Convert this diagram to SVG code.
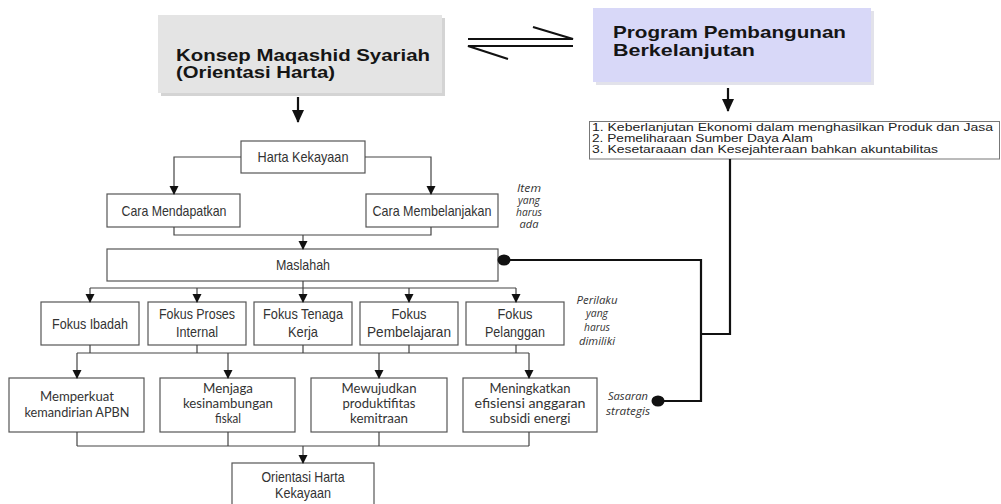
<svg xmlns="http://www.w3.org/2000/svg" width="1001" height="504" viewBox="0 0 1001 504">
<style>
.box{fill:#fff;stroke:#555;stroke-width:1.2}
.ln{fill:none;stroke:#444;stroke-width:1.2}
.thick{fill:none;stroke:#111;stroke-width:2.2}
.nar{font-family:"Liberation Sans Narrow","Liberation Sans",Arial,sans-serif;font-size:15px;fill:#333;text-anchor:middle}
.cal{font-family:Lato,"Open Sans",sans-serif;font-size:14px;fill:#333;text-anchor:middle}
.ital{font-family:"Open Sans","Noto Sans",sans-serif;font-style:italic;font-size:10px;fill:#333;text-anchor:middle}
.big{font-family:"Liberation Sans",Arial,sans-serif;font-weight:bold;font-size:17px;fill:#151515}
.list{font-family:"Liberation Sans",Arial,sans-serif;font-size:10px;fill:#222}
</style>
<defs>
<marker id="ah" markerUnits="userSpaceOnUse" markerWidth="9" markerHeight="10" refX="8" refY="4.5" orient="auto" viewBox="0 0 9 9">
<path d="M0,0 L9,4.5 L0,9 z" fill="#111"/>
</marker>
<marker id="bigah" markerUnits="userSpaceOnUse" markerWidth="13" markerHeight="12" refX="12" refY="6" orient="auto" viewBox="0 0 13 12">
<path d="M0,0 L13,6 L0,12 z" fill="#111"/>
</marker>
</defs>

<g id="konsep">
<rect x="161" y="18" width="284" height="78" fill="#d4d4d4"/>
<rect x="158" y="15" width="284" height="78" fill="#e4e4e4"/>
<text class="big" x="176" y="61" textLength="254" lengthAdjust="spacingAndGlyphs">Konsep Maqashid Syariah</text>
<text class="big" x="176" y="78" textLength="159" lengthAdjust="spacingAndGlyphs">(Orientasi Harta)</text>
</g>

<g id="program">
<rect x="596" y="11" width="278" height="74" fill="#e2e2ea"/>
<rect x="593" y="8" width="278" height="74" fill="#d8d8f8"/>
<text class="big" x="613" y="38" textLength="233" lengthAdjust="spacingAndGlyphs">Program Pembangunan</text>
<text class="big" x="613" y="56" textLength="142" lengthAdjust="spacingAndGlyphs">Berkelanjutan</text>
</g>

<g id="daftar">
<rect x="589.5" y="121.5" width="410" height="37.5" fill="#fff" stroke="#777" stroke-width="1"/>
<text class="list" x="592" y="130.5" textLength="401" lengthAdjust="spacingAndGlyphs">1. Keberlanjutan Ekonomi dalam menghasilkan Produk dan Jasa</text>
<text class="list" x="592" y="141.5" textLength="221" lengthAdjust="spacingAndGlyphs">2. Pemeliharaan Sumber Daya Alam</text>
<text class="list" x="592" y="152.5" textLength="346" lengthAdjust="spacingAndGlyphs">3. Kesetaraaan dan Kesejahteraan bahkan akuntabilitas</text>
</g>

<g id="harta">
<rect class="box" x="241" y="141" width="124" height="32"/>
<text class="nar" x="303" y="162" textLength="91" lengthAdjust="spacingAndGlyphs">Harta Kekayaan</text>
</g>
<g id="cara-mendapatkan">
<rect class="box" x="107" y="194" width="133" height="33"/>
<text class="nar" x="174" y="216" textLength="105" lengthAdjust="spacingAndGlyphs">Cara Mendapatkan</text>
</g>
<g id="cara-membelanjakan">
<rect class="box" x="366" y="194" width="132" height="33"/>
<text class="nar" x="432" y="216" textLength="119" lengthAdjust="spacingAndGlyphs">Cara Membelanjakan</text>
</g>
<g id="maslahah">
<rect class="box" x="107" y="249" width="391" height="32"/>
<text class="nar" x="303" y="270" textLength="54" lengthAdjust="spacingAndGlyphs">Maslahah</text>
</g>

<g id="fokus-ibadah">
<rect class="box" x="41" y="302" width="98" height="43"/>
<text class="nar" x="90" y="329" textLength="76" lengthAdjust="spacingAndGlyphs">Fokus Ibadah</text>
</g>
<g id="fokus-proses">
<rect class="box" x="148" y="302" width="98" height="43"/>
<text class="nar" x="197" y="319" textLength="76" lengthAdjust="spacingAndGlyphs">Fokus Proses</text>
<text class="nar" x="197" y="337" textLength="42" lengthAdjust="spacingAndGlyphs">Internal</text>
</g>
<g id="fokus-tenaga">
<rect class="box" x="254" y="302" width="98" height="43"/>
<text class="nar" x="303" y="319" textLength="80" lengthAdjust="spacingAndGlyphs">Fokus Tenaga</text>
<text class="nar" x="303" y="337" textLength="30" lengthAdjust="spacingAndGlyphs">Kerja</text>
</g>
<g id="fokus-pembelajaran">
<rect class="box" x="360" y="302" width="98" height="43"/>
<text class="nar" x="409" y="319" textLength="35" lengthAdjust="spacingAndGlyphs">Fokus</text>
<text class="nar" x="409" y="337" textLength="84" lengthAdjust="spacingAndGlyphs">Pembelajaran</text>
</g>
<g id="fokus-pelanggan">
<rect class="box" x="466" y="302" width="98" height="43"/>
<text class="nar" x="515" y="319" textLength="35" lengthAdjust="spacingAndGlyphs">Fokus</text>
<text class="nar" x="515" y="337" textLength="60" lengthAdjust="spacingAndGlyphs">Pelanggan</text>
</g>

<g id="memperkuat">
<rect class="box" x="9" y="378" width="135" height="54"/>
<text class="cal" x="77" y="401" textLength="74" lengthAdjust="spacingAndGlyphs">Memperkuat</text>
<text class="cal" x="77" y="417" textLength="105" lengthAdjust="spacingAndGlyphs">kemandirian APBN</text>
</g>
<g id="menjaga">
<rect class="box" x="160" y="378" width="135" height="54"/>
<text class="cal" x="228" y="393" textLength="50" lengthAdjust="spacingAndGlyphs">Menjaga</text>
<text class="cal" x="228" y="408" textLength="90" lengthAdjust="spacingAndGlyphs">kesinambungan</text>
<text class="cal" x="228" y="423" textLength="26" lengthAdjust="spacingAndGlyphs">fiskal</text>
</g>
<g id="mewujudkan">
<rect class="box" x="311" y="378" width="136" height="54"/>
<text class="cal" x="379" y="393" textLength="75" lengthAdjust="spacingAndGlyphs">Mewujudkan</text>
<text class="cal" x="379" y="408" textLength="73" lengthAdjust="spacingAndGlyphs">produktifitas</text>
<text class="cal" x="379" y="423" textLength="58" lengthAdjust="spacingAndGlyphs">kemitraan</text>
</g>
<g id="meningkatkan">
<rect class="box" x="463" y="378" width="134" height="54"/>
<text class="cal" x="530" y="393" textLength="81" lengthAdjust="spacingAndGlyphs">Meningkatkan</text>
<text class="cal" x="530" y="408" textLength="111" lengthAdjust="spacingAndGlyphs">efisiensi anggaran</text>
<text class="cal" x="530" y="423" textLength="81" lengthAdjust="spacingAndGlyphs">subsidi energi</text>
</g>
<g id="orientasi">
<rect class="box" x="232" y="463" width="142" height="50"/>
<text class="nar" x="303" y="482" textLength="83" lengthAdjust="spacingAndGlyphs">Orientasi Harta</text>
<text class="nar" x="303" y="498" textLength="56" lengthAdjust="spacingAndGlyphs">Kekayaan</text>
</g>

<g id="label-item">
<text class="ital" x="529" y="192" textLength="24" lengthAdjust="spacingAndGlyphs">Item</text>
<text class="ital" x="529" y="204" textLength="22" lengthAdjust="spacingAndGlyphs">yang</text>
<text class="ital" x="529" y="216" textLength="26" lengthAdjust="spacingAndGlyphs">harus</text>
<text class="ital" x="529" y="228" textLength="19" lengthAdjust="spacingAndGlyphs">ada</text>
</g>
<g id="label-perilaku">
<text class="ital" x="597" y="304" textLength="41" lengthAdjust="spacingAndGlyphs">Perilaku</text>
<text class="ital" x="597" y="317" textLength="22" lengthAdjust="spacingAndGlyphs">yang</text>
<text class="ital" x="597" y="331" textLength="26" lengthAdjust="spacingAndGlyphs">harus</text>
<text class="ital" x="597" y="345" textLength="36" lengthAdjust="spacingAndGlyphs">dimiliki</text>
</g>
<g id="label-sasaran">
<text class="ital" x="628" y="400" textLength="40" lengthAdjust="spacingAndGlyphs">Sasaran</text>
<text class="ital" x="628" y="415" textLength="44" lengthAdjust="spacingAndGlyphs">strategis</text>
</g>

<g id="connectors">
<path class="thick" d="M468,39 H573 L533,27"/>
<path class="thick" d="M573,46 H468 L508,59"/>
<line class="thick" x1="298" y1="97" x2="298" y2="122" marker-end="url(#bigah)"/>
<line class="thick" x1="728" y1="88" x2="728" y2="111" marker-end="url(#bigah)"/>
<path class="ln" d="M241,157 H174 V194" marker-end="url(#ah)"/>
<path class="ln" d="M365,157 H431 V194" marker-end="url(#ah)"/>
<path class="ln" d="M174,227 V235 H431 V227"/>
<line class="ln" x1="303" y1="235" x2="303" y2="249" marker-end="url(#ah)"/>
<path class="ln" d="M303,281 V288 M90,288 H516"/>
<line class="ln" x1="90" y1="288" x2="90" y2="302" marker-end="url(#ah)"/>
<line class="ln" x1="197" y1="288" x2="197" y2="302" marker-end="url(#ah)"/>
<line class="ln" x1="303" y1="288" x2="303" y2="302" marker-end="url(#ah)"/>
<line class="ln" x1="409" y1="288" x2="409" y2="302" marker-end="url(#ah)"/>
<line class="ln" x1="516" y1="288" x2="516" y2="302" marker-end="url(#ah)"/>
<path class="ln" d="M90,345 V353 M197,345 V353 M303,345 V353 M409,345 V353 M516,345 V353 M77,353 H529"/>
<line class="ln" x1="77" y1="353" x2="77" y2="378" marker-end="url(#ah)"/>
<line class="ln" x1="228" y1="353" x2="228" y2="378" marker-end="url(#ah)"/>
<line class="ln" x1="379" y1="353" x2="379" y2="378" marker-end="url(#ah)"/>
<line class="ln" x1="529" y1="353" x2="529" y2="378" marker-end="url(#ah)"/>
<path class="ln" d="M77,432 V446 M228,432 V446 M379,432 V446 M529,432 V446 M77,446 H529"/>
<line class="ln" x1="303" y1="446" x2="303" y2="463" marker-end="url(#ah)"/>
<path class="thick" d="M504,260 H701 V401 H658"/>
<path class="thick" d="M730,159 V334 H701"/>
<ellipse cx="504" cy="260" rx="6.5" ry="5.5" fill="#111"/>
<ellipse cx="658" cy="401" rx="6.5" ry="5.5" fill="#111"/>
</g>
</svg>
